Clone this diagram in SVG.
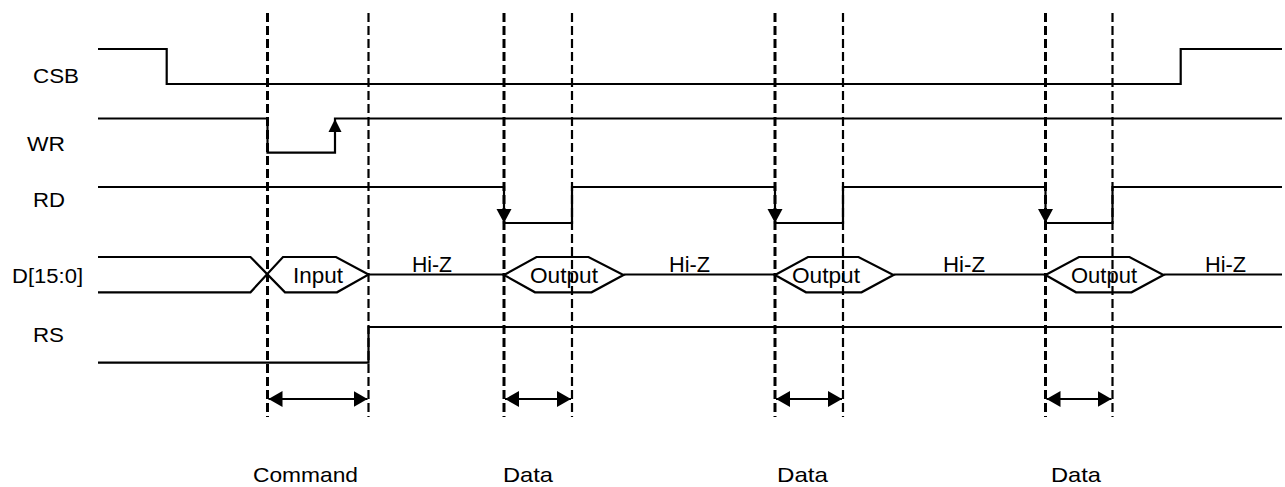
<svg xmlns="http://www.w3.org/2000/svg" width="1285" height="487" viewBox="0 0 1285 487">
<style>
.sig{fill:none;stroke:#000;stroke-width:2.2;stroke-linejoin:miter}
.lbl{font-family:"Liberation Sans",Arial,sans-serif;font-size:22px;fill:#000}
.nm{font-family:"Liberation Sans",Arial,sans-serif;font-size:20px;fill:#000}
.bot{font-family:"Liberation Sans",Arial,sans-serif;font-size:21px;fill:#000}
.dk{stroke:#000;stroke-width:3;stroke-dasharray:9 4;fill:none}
.dt{stroke:#000;stroke-width:2.2;stroke-dasharray:9 4;fill:none}
.dim{stroke:#000;stroke-width:2.2;fill:none;marker-start:url(#ah);marker-end:url(#ah)}
.head{fill:#000}
</style>
<defs>
<marker id="ah" markerUnits="userSpaceOnUse" markerWidth="15" markerHeight="16" refX="14" refY="8" orient="auto-start-reverse" viewBox="0 0 15 16">
<path d="M0,0 L14,8 L0,16 z" fill="#000"/>
</marker>
</defs>
<rect width="1285" height="487" fill="#fff"/>

<g id="CSB">
<text class="nm" x="33" y="83" textLength="46" lengthAdjust="spacingAndGlyphs">CSB</text>
<polyline class="sig" points="98,49 166.7,49 166.7,84 1180.7,84 1180.7,49 1282,49"/>
</g>

<g id="WR">
<text class="nm" x="27" y="151" textLength="38" lengthAdjust="spacingAndGlyphs">WR</text>
<polyline class="sig" points="98,118.5 267.5,118.5 267.5,152.7 335,152.7 335,118.5 1282,118.5"/>
<polygon class="head" points="335,119 341.5,132 328.5,132"/>
</g>

<g id="RD">
<text class="nm" x="33" y="207" textLength="32" lengthAdjust="spacingAndGlyphs">RD</text>
<polyline class="sig" points="98,187 504,187 504,223 572,223 572,187 775,187 775,223 843,223 843,187 1045.5,187 1045.5,223 1112.5,223 1112.5,187 1282,187"/>
<polygon class="head" points="504,223 496.5,209 511.5,209"/>
<polygon class="head" points="775,223 767.5,209 782.5,209"/>
<polygon class="head" points="1045.5,223 1038,209 1053,209"/>
</g>

<g id="D">
<text class="nm" x="12" y="283" textLength="71" lengthAdjust="spacingAndGlyphs">D[15:0]</text>
<polyline class="sig" points="98,257 250.5,257 285,292.3 337,292.3 368.5,274.5 504,274.5"/>
<polyline class="sig" points="98,292.3 250.5,292.3 283,257 336,257 368.5,274.5"/>
<polygon class="sig" points="504,275 536.5,257 588.5,257 623.5,275 591.5,292.3 535,292.3"/>
<polygon class="sig" points="775,275 808,257 858.5,257 893.5,275 861.5,292.3 806,292.3"/>
<polygon class="sig" points="1045.5,275 1079,257 1129.5,257 1163.5,275 1131.5,292.3 1076,292.3"/>
<polyline class="sig" points="623.5,274.5 775,274.5"/>
<polyline class="sig" points="893.5,274.5 1045.5,274.5"/>
<polyline class="sig" points="1163.5,274.5 1282,274.5"/>
<text class="lbl" x="293" y="283" textLength="50" lengthAdjust="spacingAndGlyphs">Input</text>
<text class="lbl" x="530" y="283" textLength="68" lengthAdjust="spacingAndGlyphs">Output</text>
<text class="lbl" x="792" y="283" textLength="68" lengthAdjust="spacingAndGlyphs">Output</text>
<text class="lbl" x="1071" y="283" textLength="66" lengthAdjust="spacingAndGlyphs">Output</text>
<text class="lbl" x="412" y="272" textLength="40" lengthAdjust="spacingAndGlyphs">Hi-Z</text>
<text class="lbl" x="669" y="272" textLength="41" lengthAdjust="spacingAndGlyphs">Hi-Z</text>
<text class="lbl" x="943" y="272" textLength="42" lengthAdjust="spacingAndGlyphs">Hi-Z</text>
<text class="lbl" x="1205" y="272" textLength="41" lengthAdjust="spacingAndGlyphs">Hi-Z</text>
</g>

<g id="RS">
<text class="nm" x="33" y="342" textLength="31" lengthAdjust="spacingAndGlyphs">RS</text>
<polyline class="sig" points="98,362.7 368.5,362.7 368.5,327 1282,327"/>
</g>

<g id="connectors">
<line class="dk" x1="267.5" y1="13" x2="267.5" y2="417"/>
<line class="dt" x1="368.5" y1="13" x2="368.5" y2="417"/>
<line class="dk" x1="504" y1="13" x2="504" y2="417"/>
<line class="dt" x1="572" y1="13" x2="572" y2="417"/>
<line class="dk" x1="775" y1="13" x2="775" y2="417"/>
<line class="dt" x1="843" y1="13" x2="843" y2="417"/>
<line class="dk" x1="1045.5" y1="13" x2="1045.5" y2="417"/>
<line class="dt" x1="1112.5" y1="13" x2="1112.5" y2="417"/>
<line class="dim" x1="268.5" y1="399" x2="367.5" y2="399"/>
<line class="dim" x1="505" y1="399" x2="571" y2="399"/>
<line class="dim" x1="776" y1="399" x2="842" y2="399"/>
<line class="dim" x1="1046.5" y1="399" x2="1111.5" y2="399"/>
</g>

<g id="phases">
<text class="bot" x="253" y="482" textLength="105" lengthAdjust="spacingAndGlyphs">Command</text>
<text class="bot" x="503" y="482" textLength="50" lengthAdjust="spacingAndGlyphs">Data</text>
<text class="bot" x="777" y="482" textLength="51" lengthAdjust="spacingAndGlyphs">Data</text>
<text class="bot" x="1051" y="482" textLength="50" lengthAdjust="spacingAndGlyphs">Data</text>
</g>
</svg>
